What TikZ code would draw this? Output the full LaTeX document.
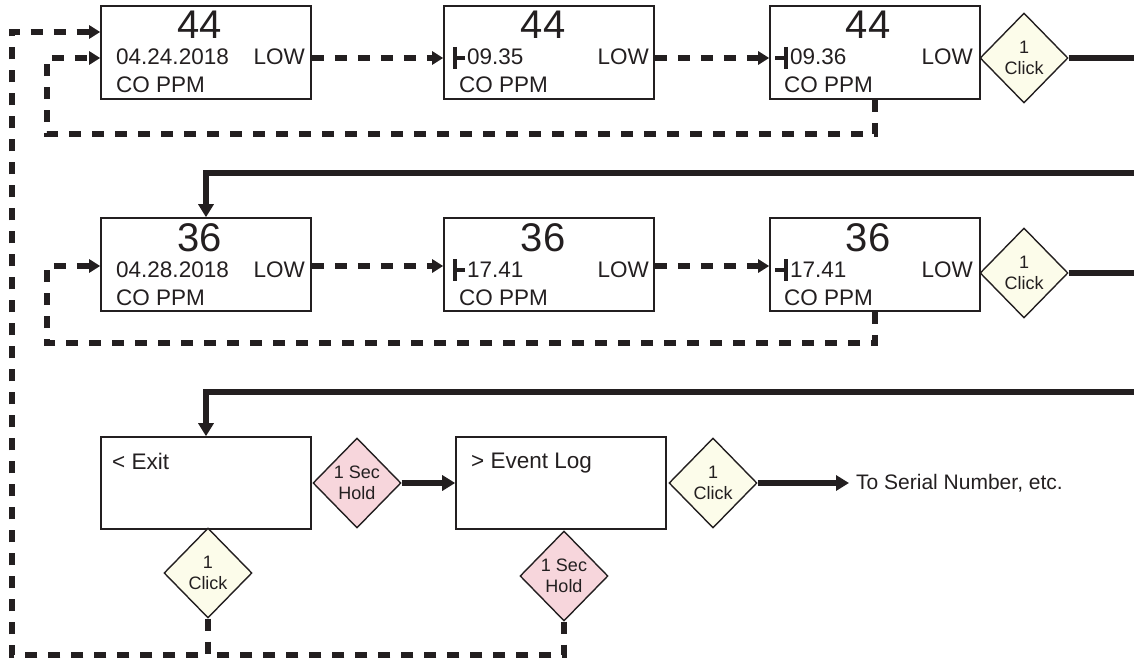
\documentclass[tikz,border=0pt]{standalone}
\usepackage{fontspec}
\setmainfont{Liberation Sans}
\usetikzlibrary{shapes.geometric,arrows.meta}
\definecolor{ink}{RGB}{35,31,32}
\definecolor{cream}{RGB}{252,252,234}
\definecolor{pinkfill}{RGB}{247,214,220}
\begin{document}
\begin{tikzpicture}[x=1pt,y=-1pt,
 scr/.style={draw=ink,line width=1.6pt,minimum width=210pt,minimum height=93pt,inner sep=0pt},
 dia/.style={diamond,draw=ink,line width=1.4pt,aspect=1,inner sep=0pt,minimum width=88pt,minimum height=90pt,align=center,font=\fontsize{18}{21}\selectfont,text=ink},
 clickd/.style={dia,fill=cream},
 holdd/.style={dia,fill=pinkfill},
 big/.style={inner sep=0pt,anchor=base,font=\fontsize{40}{40}\selectfont,text=ink},
 txt/.style={inner sep=0pt,font=\fontsize{22.5}{24}\selectfont,text=ink},
 dconn/.style={draw=ink,line width=5.5pt,dash pattern=on 12pt off 11pt},
 sconn/.style={draw=ink,line width=5.5pt},
 dtip/.style={-{Triangle[length=11pt,width=13pt]}},
 stip/.style={-{Triangle[length=13pt,width=15pt]}},
 tickmark/.style={draw=ink,line width=4pt}
]
\useasboundingbox (0,0) rectangle (1134,658);

% screens
\node[scr] (A) at (206,52.5) {};
\node[scr] (B) at (549,52.5) {};
\node[scr] (C) at (875,52.5) {};
\node[scr] (D) at (206,264.5) {};
\node[scr] (E) at (549,264.5) {};
\node[scr] (F) at (875,264.5) {};
\node[scr,minimum height=92pt] (X) at (206,483) {};
\node[scr,minimum height=92pt] (L) at (561,483) {};

% row 1 texts
\node[big] (A1) at (200,39) {44};
\node[txt,anchor=base west] (A2) at (116,65) {04.24.2018};
\node[txt,anchor=base east] (A3) at (305,65) {LOW};
\node[txt,anchor=base west] (A4) at (116,93) {CO PPM};
\node[big] (B1) at (543,39) {44};
\node[txt,anchor=base west] (B2) at (467,65) {09.35};
\node[txt,anchor=base east] (B3) at (649,65) {LOW};
\node[txt,anchor=base west] (B4) at (459,93) {CO PPM};
\draw[tickmark] (455,47) -- (455,69) (455,58) -- (465,58);
\node[big] (C1) at (868,39) {44};
\node[txt,anchor=base west] (C2) at (790,65) {09.36};
\node[txt,anchor=base east] (C3) at (973,65) {LOW};
\node[txt,anchor=base west] (C4) at (784,93) {CO PPM};
\draw[tickmark] (786,47) -- (786,69) (775,58) -- (786,58);

% row 2 texts
\node[big] (D1) at (200,251) {36};
\node[txt,anchor=base west] (D2) at (116,277) {04.28.2018};
\node[txt,anchor=base east] (D3) at (305,277) {LOW};
\node[txt,anchor=base west] (D4) at (116,305) {CO PPM};
\node[big] (E1) at (543,251) {36};
\node[txt,anchor=base west] (E2) at (467,277) {17.41};
\node[txt,anchor=base east] (E3) at (649,277) {LOW};
\node[txt,anchor=base west] (E4) at (459,305) {CO PPM};
\draw[tickmark] (455,259) -- (455,281) (455,270) -- (465,270);
\node[big] (F1) at (868,251) {36};
\node[txt,anchor=base west] (F2) at (790,277) {17.41};
\node[txt,anchor=base east] (F3) at (973,277) {LOW};
\node[txt,anchor=base west] (F4) at (784,305) {CO PPM};
\draw[tickmark] (786,259) -- (786,281) (775,270) -- (786,270);

% row 3 texts
\node[txt,anchor=base west] (X1) at (112,469) {< Exit};
\node[txt,anchor=base west] (L1) at (471,468) {> Event Log};

% diamonds
\node[clickd] (K1) at (1024,58) {1\\Click};
\node[clickd] (K2) at (1024,273) {1\\Click};
\node[holdd] (H1) at (357,483) {1 Sec\\Hold};
\node[clickd] (K3) at (713,483) {1\\Click};
\node[clickd] (K4) at (208,573) {1\\Click};
\node[holdd] (H2) at (564,576) {1 Sec\\Hold};

\node[inner sep=0pt,inner xsep=7pt,anchor=west,font=\fontsize{21}{23}\selectfont,text=ink] (T) at (849,483) {To Serial Number, etc.};

% coordinates
\coordinate (r1) at (1134,58);
\coordinate (r2a) at (1134,173);
\coordinate (r2b) at (1134,273);
\coordinate (r3) at (1134,392);
\coordinate (y1) at (0,58);
\coordinate (y2) at (0,266);
\coordinate (lb1) at (47,134);
\coordinate (lt1) at (47,58);
\coordinate (lb2) at (47,343);
\coordinate (lt2) at (47,266);
\coordinate (ob) at (12,655);
\coordinate (ot) at (12,32);

% solid connectors
\draw[sconn] (K1.east) -- (r1);
\draw[sconn,stip] (r2a) -| (D.north);
\draw[sconn] (K2.east) -- (r2b);
\draw[sconn,stip] (r3) -| (X.north);
\draw[sconn,stip] (H1.east) -- (L.west);
\draw[sconn,stip] (K3.east) -- (T.west);

% dashed connectors
\draw[dconn,dtip] (A.east |- y1) -- (B.west |- y1);
\draw[dconn,dtip] (B.east |- y1) -- (C.west |- y1);
\draw[dconn,dtip] (C.south) |- (lb1) -- (lt1) -- (A.west |- lt1);
\draw[dconn,dtip] (D.east |- y2) -- (E.west |- y2);
\draw[dconn,dtip] (E.east |- y2) -- (F.west |- y2);
\draw[dconn,dtip] (F.south) |- (lb2) -- (lt2) -- (D.west |- lt2);
\draw[dconn,dtip] (K4.south) |- (ob) -- (ot) -- (A.west |- ot);
\draw[dconn] (H2.south) |- (K4.south |- ob);
\end{tikzpicture}
\end{document}
